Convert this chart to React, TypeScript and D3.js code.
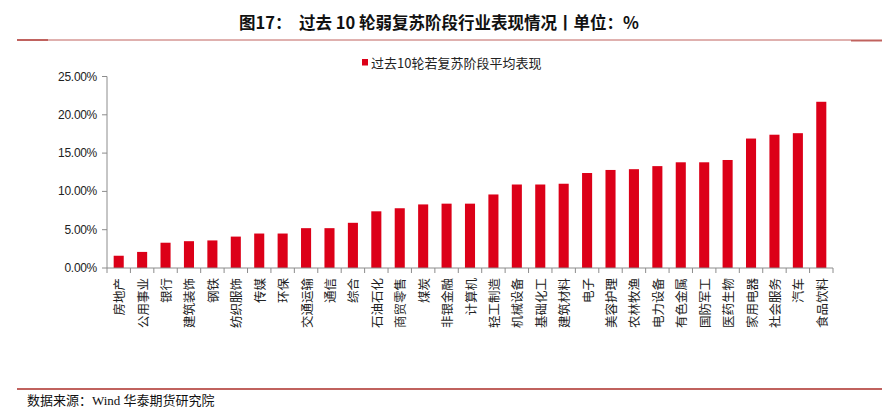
import React from "react";
import * as d3 from "d3";

const categories = ["房地产","公用事业","银行","建筑装饰","钢铁","纺织服饰","传媒","环保","交通运输","通信","综合","石油石化","商贸零售","煤炭","非银金融","计算机","轻工制造","机械设备","基础化工","建筑材料","电子","美容护理","农林牧渔","电力设备","有色金属","国防军工","医药生物","家用电器","社会服务","汽车","食品饮料"];
const values = [1.6,2.1,3.3,3.5,3.6,4.1,4.5,4.5,5.2,5.2,5.9,7.4,7.8,8.3,8.4,8.4,9.6,10.9,10.9,11.0,12.4,12.8,12.9,13.3,13.8,13.8,14.1,16.9,17.4,17.6,21.7];
const yTicks = [0,5,10,15,20,25];
const yTickLabels = ["0.00%","5.00%","10.00%","15.00%","20.00%","25.00%"];
const seriesName = "过去10轮若复苏阶段平均表现";
const title = "图17：  过去 10 轮弱复苏阶段行业表现情况丨单位：%";
const source = "数据来源：Wind 华泰期货研究院";

const W = 882, H = 418;
const BAR = "#DC0018";
const LINE = "#C0625E";
const AXIS = "#8C8C8C";

export default function App() {
  const x = d3.scaleBand<string>().domain(categories).range([107, 833]).paddingInner(0.57).paddingOuter(0.285);
  const y = d3.scaleLinear().domain([0, 25]).range([268, 76.5]);
  const step = x.step();
  const x0 = 107;
  const cjk = "'Noto Sans CJK SC', 'Noto Sans', sans-serif";
  return (
    <svg width={W} height={H} style={{ position: "absolute", left: 0, top: 0, background: "#fff" }}>
      <rect x={0} y={0} width={W} height={H} fill="#fff" />
      {/* title */}
      <text x={439} y={22} textAnchor="middle" dominantBaseline="central" fontFamily={cjk} fontWeight="bold" fontSize={16.5} fill="#111" style={{ whiteSpace: "pre" }}>{title}</text>
      <line x1={17} x2={48} y1={40} y2={40} stroke={LINE} strokeWidth={2} />
      <line x1={48} x2={851} y1={40} y2={40} stroke={LINE} strokeWidth={1} />
      <line x1={851} x2={882} y1={40.5} y2={40.5} stroke={LINE} strokeWidth={2} />
      {/* legend */}
      <rect x={362} y={59} width={6} height={6.5} fill={BAR} />
      <text x={371} y={62.5} dominantBaseline="central" fontFamily={cjk} fontSize={13} fill="#222">{seriesName}</text>
      {/* y axis */}
      <line x1={x0} x2={x0} y1={y(25)} y2={y(0)} stroke={AXIS} strokeWidth={1} />
      {yTicks.map((t, i) => (
        <g key={t}>
          <line x1={x0 - 5} x2={x0} y1={y(t)} y2={y(t)} stroke={AXIS} strokeWidth={1} />
          <text x={97} y={y(t)} textAnchor="end" dominantBaseline="central" fontFamily="'Liberation Sans', Arial, sans-serif" fontSize={12} letterSpacing={-0.3} fill="#222">{yTickLabels[i]}</text>
        </g>
      ))}
      {/* bars */}
      {categories.map((c, i) => (
        <rect key={c} x={x(c)} y={y(values[i])} width={x.bandwidth()} height={y(0) - y(values[i])} fill={BAR} />
      ))}
      {/* x axis */}
      <line x1={x0} x2={833} y1={y(0)} y2={y(0)} stroke={AXIS} strokeWidth={1} />
      {d3.range(categories.length + 1).map(i => (
        <line key={i} x1={x0 + i * step} x2={x0 + i * step} y1={y(0)} y2={y(0) + 5} stroke={AXIS} strokeWidth={1} />
      ))}
      {categories.map(c => {
        const cx = (x(c) as number) + x.bandwidth() / 2;
        return (
          <text key={c} transform={`translate(${cx},278) rotate(-90)`} textAnchor="end" dominantBaseline="central" fontFamily={cjk} fontSize={12.5} fill="#222">{c}</text>
        );
      })}
      {/* footer */}
      <line x1={17} x2={882} y1={389} y2={389} stroke={LINE} strokeWidth={2} />
      <text x={27} y={400} dominantBaseline="central" fontFamily="'Liberation Serif', 'Noto Sans CJK SC', serif" fontSize={13} fill="#111">{source}</text>
    </svg>
  );
}
